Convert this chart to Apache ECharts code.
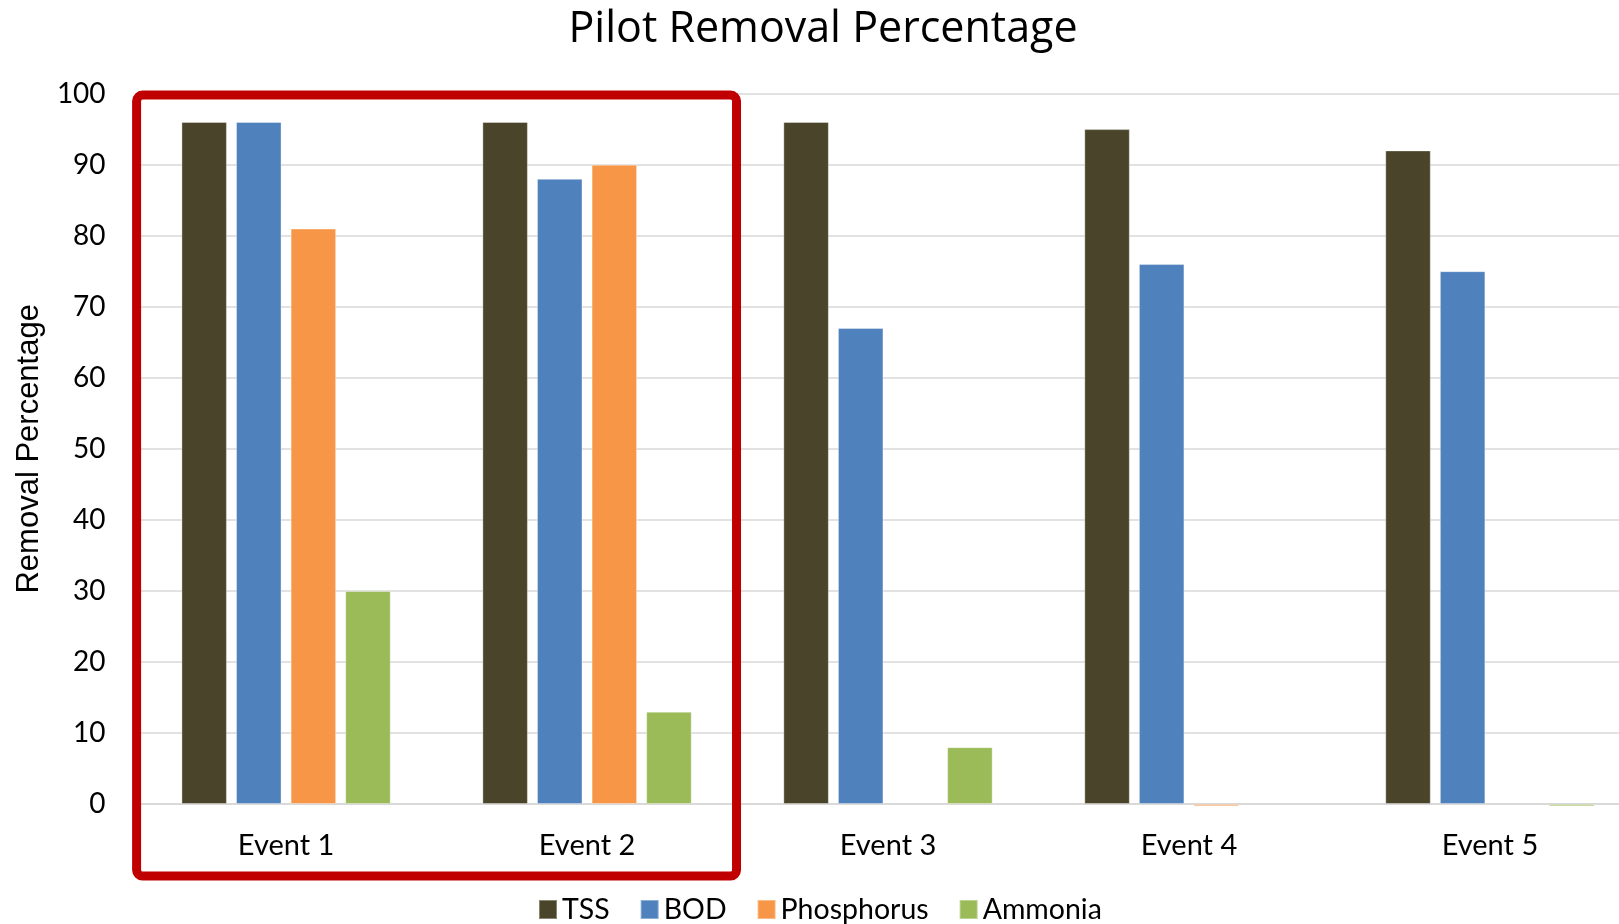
<!DOCTYPE html>
<html>
<head>
<meta charset="utf-8">
<script src="https://cdn.jsdelivr.net/npm/echarts@6/dist/echarts.min.js"></script>
<style>
html,body{margin:0;padding:0;background:#fff;overflow:hidden;width:1619px;height:924px;}
#chart{width:1646px;height:924px;}
</style>
</head>
<body>
<div id="chart"></div>
<script>
const titleText = 'Pilot Removal Percentage';
const yAxisName = 'Removal Percentage';
const categories = ['Event 1', 'Event 2', 'Event 3', 'Event 4', 'Event 5'];
const seriesNames = ['TSS', 'BOD', 'Phosphorus', 'Ammonia'];
const tssValues = [96, 96, 96, 95, 92];
const bodValues = [96, 88, 67, 76, 75];
const phosphorusValues = [81, 90, null, -0.3, null];
const ammoniaValues = [30, 13, 8, null, -0.3];
const yTicks = [0, 10, 20, 30, 40, 50, 60, 70, 80, 90, 100];

const colors = ['#4A452A', '#4F81BD', '#F79646', '#9BBB59'];
const font = 'Lato, "Open Sans", sans-serif';

// The original chart is slightly wider than the picture and is cropped on the right
const chart = echarts.init(document.getElementById('chart'));
const dataSets = [tssValues, bodValues, phosphorusValues, ammoniaValues];

const option = {
  animation: false,
  backgroundColor: '#fff',
  title: {
    text: titleText,
    left: 'center',
    top: 3,
    textStyle: {fontFamily: '"Open Sans", Lato, sans-serif', fontSize: 43, fontWeight: 'normal', color: '#000'}
  },
  legend: {
    data: seriesNames,
    left: 533,
    top: 890,
    itemWidth: 18,
    itemHeight: 19,
    itemGap: 30,
    icon: 'rect',
    textStyle: {fontFamily: font, fontSize: 28.5, color: '#000'}
  },
  grid: {left: 135.6, top: 93.6, width: 1504.8, height: 710.4, containLabel: false},
  xAxis: {
    type: 'category',
    data: categories,
    axisTick: {show: false},
    axisLine: {lineStyle: {color: '#D9D9D9', width: 2}},
    axisLabel: {fontFamily: font, fontSize: 29, color: '#000', margin: 27}
  },
  yAxis: {
    type: 'value',
    min: yTicks[0],
    max: yTicks[yTicks.length - 1],
    interval: 10,
    name: yAxisName,
    nameLocation: 'middle',
    nameGap: 91,
    nameTextStyle: {fontFamily: '"Liberation Sans", Arial, sans-serif', fontSize: 31, color: '#000'},
    axisLine: {show: false},
    axisTick: {show: false},
    axisLabel: {fontFamily: font, fontSize: 28, color: '#000', margin: 30},
    splitLine: {lineStyle: {color: '#D9D9D9', width: 1.5}}
  },
  series: seriesNames.map((n, i) => ({
    name: n,
    type: 'bar',
    data: dataSets[i],
    barWidth: 45.5,
    barGap: '20%',
    clip: false,
    itemStyle: {color: colors[i], borderColor: 'rgba(255,255,255,0.35)', borderWidth: 1}
  }))
};
chart.setOption(option);

// Red highlight box around the first two events
const band = chart.convertToPixel({xAxisIndex: 0}, 'Event 2') - chart.convertToPixel({xAxisIndex: 0}, 'Event 1');
const x0 = chart.convertToPixel({xAxisIndex: 0}, categories[0]) - band / 2 + 1;
const x1 = chart.convertToPixel({xAxisIndex: 0}, categories[1]) + band / 2 - 1;
const yTop = chart.convertToPixel({yAxisIndex: 0}, 100) + 1.5;
const yZero = chart.convertToPixel({yAxisIndex: 0}, 0);
const yBot = yZero + 72;
chart.setOption({
  graphic: [{
    type: 'rect',
    shape: {x: x0, y: yTop, width: x1 - x0, height: yBot - yTop, r: 6},
    style: {fill: 'none', stroke: '#C00000', lineWidth: 9},
    z: 100
  }]
});
</script>
</body>
</html>
